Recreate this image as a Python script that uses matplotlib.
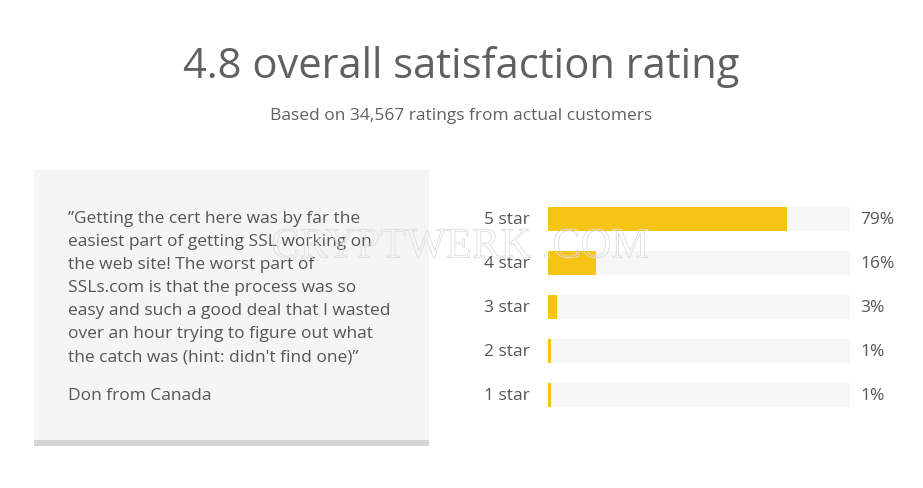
import matplotlib
matplotlib.use("Agg")
import matplotlib.pyplot as plt
from matplotlib.patches import Rectangle, PathPatch
from matplotlib.textpath import TextPath
from matplotlib.font_manager import FontProperties
from matplotlib.transforms import blended_transform_factory, Affine2D

# ---- data ----
title = "4.8 overall satisfaction rating"
subtitle = "Based on 34,567 ratings from actual customers"
quote_lines = [
    "\u201dGetting the cert here was by far the",
    "easiest part of getting SSL working on",
    "the web site! The worst part of",
    "SSLs.com is that the process was so",
    "easy and such a good deal that I wasted",
    "over an hour trying to figure out what",
    "the catch was (hint: didn't find one)\u201d",
]
quote_author = "Don from Canada"
star_labels = ["5 star", "4 star", "3 star", "2 star", "1 star"]
star_pct = [79, 16, 3, 1, 1]
watermark = "CRYPTWERK .COM"

W, H = 923, 488
TEXT = "#606060"
BODY = "#555555"
BAR = "#F6C415"
TRACK = "#F7F7F7"

plt.rcParams["font.family"] = ["Open Sans", "DejaVu Sans"]

fig = plt.figure(figsize=(W / 100, H / 100), dpi=100)
fig.patch.set_facecolor("white")


def fx(px):
    return px / W


def fy(py):
    return 1 - py / H


# header
fig.text(0.5, fy(67), title, ha="center", va="center", fontsize=30,
         color=TEXT)
fig.text(0.5, fy(116), subtitle, ha="center", va="center", fontsize=12.5,
         color=TEXT)

# quote box with its grey bottom border
fig.patches.append(Rectangle((fx(34), fy(440)), fx(429) - fx(34), fy(170) - fy(440),
                             transform=fig.transFigure, facecolor="#F5F5F5",
                             edgecolor="none", zorder=0))
fig.patches.append(Rectangle((fx(34), fy(446)), fx(429) - fx(34), fy(440) - fy(446),
                             transform=fig.transFigure, facecolor="#D6D6D6",
                             edgecolor="none", zorder=0))

for i, line in enumerate(quote_lines):
    fig.text(fx(68), fy(219 + 23 * i), line, ha="left", va="center",
             fontsize=12.5, color=BODY)
fig.text(fx(68), fy(396), quote_author, ha="left", va="center",
         fontsize=12.5, color=BODY)

# bars: light track = 100%, yellow = share
ax = fig.add_axes([fx(548), fy(417), fx(850) - fx(548), fy(197) - fy(417)])
ypos = list(range(len(star_labels)))
ax.barh(ypos, [100] * len(ypos), height=24 / 44, color=TRACK, zorder=1)
ax.barh(ypos, star_pct, height=24 / 44, color=BAR, zorder=2)
ax.set_xlim(0, 100)
ax.set_ylim(len(ypos) - 0.5, -0.5)
ax.axis("off")

tr = blended_transform_factory(ax.transAxes, ax.transData)
for y, lab, p in zip(ypos, star_labels, star_pct):
    ax.text(-(548 - 484) / 302, y + 0.03, lab, transform=tr, ha="left", va="center",
            fontsize=12.5, color=BODY)
    ax.text((860 - 548) / 302, y + 0.03, f"{p}%", transform=tr, ha="left", va="center",
            fontsize=12.5, color=BODY)

# outlined watermark, fitted to x 273..648, cap top 229..258 px
tp = TextPath((0, 0), watermark, size=30,
              prop=FontProperties(family=["Liberation Serif", "DejaVu Serif"]))
ext = tp.get_extents()
sx = (648 - 273) / ext.width
sy = (258 - 229) / ext.height
wm_tr = Affine2D().translate(-ext.x0, -ext.y0).scale(sx, sy).translate(273, H - 258)
fig.patches.append(PathPatch(tp, transform=wm_tr, facecolor="none",
                             edgecolor="#DDDDDD", linewidth=0.6, zorder=5))

fig.savefig("out.png", dpi=100, facecolor="white")
